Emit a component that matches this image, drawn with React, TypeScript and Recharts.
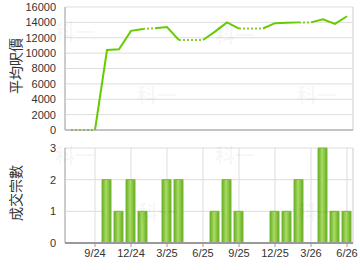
import React from "react";
import { LineChart, BarChart, Line, Bar, XAxis, YAxis, CartesianGrid, ReferenceLine } from "recharts";

// monthly categories, Jul 2024 .. Jun 2026
const months = [
  "7/24", "8/24", "9/24", "10/24", "11/24", "12/24",
  "1/25", "2/25", "3/25", "4/25", "5/25", "6/25",
  "7/25", "8/25", "9/25", "10/25", "11/25", "12/25",
  "1/26", "2/26", "3/26", "4/26", "5/26", "6/26",
];
const avgPrice = [
  0, 0, 0, 10400, 10500, 12900,
  13150, 13250, 13400, 11700, 11700, 11700,
  12800, 14000, 13200, 13200, 13200, 13900,
  13950, 14000, 14000, 14400, 13800, 14800,
];
const deals = [
  0, 0, 0, 2, 1, 2,
  1, 0, 2, 2, 0, 0,
  1, 2, 1, 0, 0, 1,
  1, 2, 0, 3, 1, 1,
];
const priceTicks = [0, 2000, 4000, 6000, 8000, 10000, 12000, 14000, 16000];
const dealTicks = [0, 1, 2, 3];
const monthTicks = ["9/24", "12/24", "3/25", "6/25", "9/25", "12/25", "3/26", "6/26"];

const GREEN = "#66cc00";
const GRID = "#dddddd";
const FONT = "Arial, 'Liberation Sans', sans-serif";
const CJK = "'Noto Sans CJK TC', 'Noto Sans CJK SC', sans-serif";

// a segment into a month with no deals is drawn dotted
type Run = { start: number; end: number; dotted: boolean };
const runs: Run[] = [];
for (let i = 0; i < months.length - 1; i++) {
  const dotted = deals[i + 1] === 0;
  const last = runs[runs.length - 1];
  if (last && last.dotted === dotted && last.end === i) last.end = i + 1;
  else runs.push({ start: i, end: i + 1, dotted });
}

const rows = months.map((m, i) => {
  const row: Record<string, number | string | null> = { x: i, month: m, price: avgPrice[i], deals: deals[i] };
  runs.forEach((r, k) => {
    row["r" + k] = i >= r.start && i <= r.end ? avgPrice[i] : null;
  });
  return row;
});

const xTicks = monthTicks.map((m) => months.indexOf(m));
const xDomain: [number, number] = [-0.5, months.length - 0.5];

const tickStyle = { fontSize: 11, fill: "#333", fontFamily: FONT };

function sideLabel(text: string, cy: number) {
  return {
    value: text,
    content: () => (
      <text
        x={15}
        y={cy}
        transform={`rotate(-90 15 ${cy})`}
        textAnchor="middle"
        dominantBaseline="central"
        fontSize={14}
        fill="#333"
        fontFamily={CJK}
      >
        {text}
      </text>
    ),
  };
}

const marks = [
  { left: 55, top: 22 }, { left: 137, top: 85 }, { left: 215, top: 25 }, { left: 297, top: 85 },
  { left: 55, top: 145 }, { left: 138, top: 202 }, { left: 215, top: 145 }, { left: 297, top: 202 },
];

export default function App() {
  return (
    <div style={{ position: "absolute", left: 0, top: 0, width: 360, height: 270, background: "#fff", overflow: "hidden" }}>
      <div style={{ position: "absolute", left: 0, top: 0 }}>
        <LineChart width={360} height={135} data={rows} margin={{ top: 7, right: 7, bottom: 4, left: 0 }}>
          <CartesianGrid stroke={GRID} />
          <XAxis
            dataKey="x"
            type="number"
            domain={xDomain}
            ticks={xTicks}
            height={1}
            tick={false}
            tickLine={false}
            axisLine={{ stroke: "#999", strokeWidth: 1 }}
          />
          <YAxis
            width={65}
            domain={[0, 16000]}
            ticks={priceTicks}
            interval={0}
            tickLine={false}
            tickMargin={3}
            axisLine={{ stroke: "#aaa" }}
            tick={tickStyle}
            label={sideLabel("平均呎價", 66)}
          />
          <ReferenceLine x={xDomain[1]} stroke={GRID} />
          {runs.map((r, k) => (
            <Line
              key={k}
              dataKey={"r" + k}
              stroke={r.dotted ? "#88cc33" : GREEN}
              strokeWidth={2}
              strokeDasharray={r.dotted ? "2 2" : undefined}
              dot={false}
              activeDot={false}
              type="linear"
              isAnimationActive={false}
            />
          ))}
        </LineChart>
      </div>
      <div style={{ position: "absolute", left: 0, top: 135 }}>
        <BarChart width={360} height={135} data={rows} margin={{ top: 13, right: 7, bottom: 5, left: 0 }}>
          <defs>
            <linearGradient id="barFill" x1="0" y1="0" x2="1" y2="0">
              <stop offset="0%" stopColor="#66aa22" />
              <stop offset="45%" stopColor="#aadd66" />
              <stop offset="100%" stopColor="#66aa22" />
            </linearGradient>
          </defs>
          <CartesianGrid stroke={GRID} />
          <XAxis
            dataKey="x"
            type="number"
            domain={xDomain}
            ticks={xTicks}
            interval={0}
            height={22}
            tickFormatter={(v: number) => months[v]}
            tick={tickStyle}
            tickSize={4}
            tickMargin={2}
            axisLine={{ stroke: "#999", strokeWidth: 2 }}
            tickLine={{ stroke: "#999" }}
          />
          <YAxis
            width={65}
            domain={[0, 3]}
            ticks={dealTicks}
            interval={0}
            tickLine={false}
            tickMargin={3}
            axisLine={{ stroke: "#aaa" }}
            tick={tickStyle}
            label={sideLabel("成交宗數", 58)}
          />
          <ReferenceLine x={xDomain[1]} stroke={GRID} />
          <Bar dataKey="deals" barSize={9} fill="url(#barFill)" stroke="#77bb33" isAnimationActive={false} />
        </BarChart>
      </div>
      {marks.map((m, i) => (
        <div
          key={i}
          style={{
            position: "absolute",
            left: m.left,
            top: m.top,
            fontSize: 20,
            fontWeight: "bold",
            fontFamily: CJK,
            color: "rgba(0,0,0,0.04)",
            pointerEvents: "none",
            lineHeight: 1,
          }}
        >
          科一
        </div>
      ))}
    </div>
  );
}
